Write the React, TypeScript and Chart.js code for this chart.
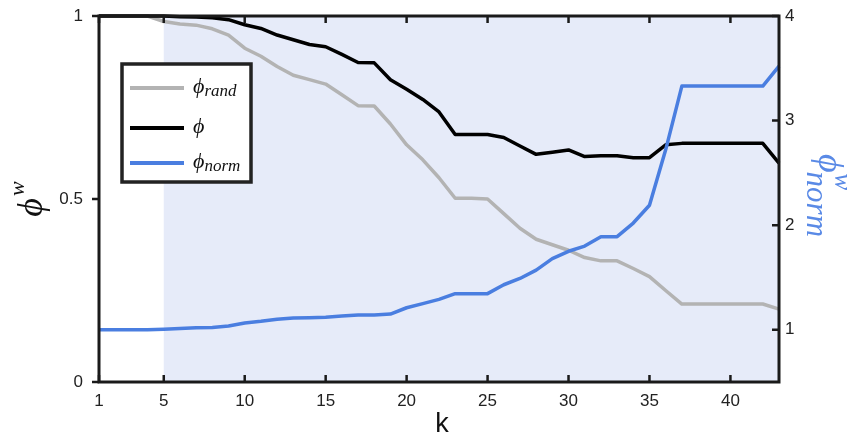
import React, { useEffect, useRef } from "react";
import { Chart, registerables } from "chart.js";

Chart.register(...registerables);

// ---------- data ----------
const kValues = [
  1, 2, 3, 4, 5, 6, 7, 8, 9, 10, 11, 12, 13, 14, 15, 16, 17, 18, 19, 20, 21,
  22, 23, 24, 25, 26, 27, 28, 29, 30, 31, 32, 33, 34, 35, 36, 37, 38, 39, 40,
  41, 42, 43,
];

const phiRand = [
  1.0, 1.0, 1.0, 1.0, 0.985, 0.978, 0.975, 0.965, 0.948, 0.912, 0.89, 0.862,
  0.838, 0.826, 0.814, 0.785, 0.755, 0.754, 0.705, 0.648, 0.607, 0.558, 0.502,
  0.502, 0.5, 0.46, 0.42, 0.39, 0.375, 0.36, 0.34, 0.331, 0.331, 0.31, 0.288,
  0.25, 0.213, 0.213, 0.213, 0.213, 0.213, 0.213, 0.199,
];

const phi = [
  1.0, 1.0, 1.0, 1.0, 1.0, 0.998, 0.997, 0.995, 0.99, 0.976, 0.966, 0.948,
  0.935, 0.922, 0.916, 0.895, 0.873, 0.872, 0.826, 0.8, 0.772, 0.738, 0.676,
  0.676, 0.676, 0.668, 0.645, 0.622, 0.628, 0.634, 0.616, 0.618, 0.618, 0.613,
  0.613, 0.648, 0.652, 0.652, 0.652, 0.652, 0.652, 0.652, 0.598,
];

const phiNorm = [
  1.0, 1.0, 1.0, 1.0, 1.005, 1.012, 1.018, 1.022, 1.035, 1.065, 1.08, 1.1,
  1.112, 1.115, 1.12, 1.13, 1.14, 1.14, 1.15, 1.21, 1.25, 1.29, 1.345, 1.345,
  1.345, 1.43, 1.49, 1.57, 1.68, 1.75, 1.8, 1.89, 1.89, 2.02, 2.19, 2.72, 3.33,
  3.33, 3.33, 3.33, 3.33, 3.33, 3.52,
];

const xTicks = [1, 5, 10, 15, 20, 25, 30, 35, 40];
const leftTicks = [0, 0.5, 1];
const rightTicks = [1, 2, 3, 4];
const shadeStartK = 5;

const GRAY = "#b3b3b3";
const BLACK = "#000000";
const BLUE = "#4a7ee0";
const TITLE_BLUE = "#5a8ae6";
const SHADE = "#e6ebf9";
const AXIS = "#1a1a1a";

const legendItems = [
  { base: "ϕ", sub: "rand", color: GRAY },
  { base: "ϕ", sub: "", color: BLACK },
  { base: "ϕ", sub: "norm", color: BLUE },
];

const SERIF = '"Liberation Serif", "DejaVu Serif", serif';
const SANS = '"Liberation Sans", Arial, sans-serif';

const decorPlugin = {
  id: "decor",
  beforeDatasetsDraw(chart: any) {
    const { ctx, chartArea } = chart;
    const { right, top, bottom } = chartArea;
    const xs = chart.scales.x.getPixelForValue(shadeStartK);
    ctx.save();
    ctx.fillStyle = SHADE;
    ctx.fillRect(xs, top, right - xs, bottom - top);
    ctx.restore();
  },
  afterDatasetsDraw(chart: any) {
    const { ctx, chartArea } = chart;
    const { left, right, top, bottom } = chartArea;
    const sx = chart.scales.x;
    const sy = chart.scales.y;
    const sy1 = chart.scales.y1;
    ctx.save();
    // ticks
    ctx.strokeStyle = AXIS;
    ctx.lineWidth = 2.5;
    ctx.beginPath();
    for (const t of xTicks) {
      const px = sx.getPixelForValue(t);
      ctx.moveTo(px, bottom);
      ctx.lineTo(px, bottom - 7);
      ctx.moveTo(px, top);
      ctx.lineTo(px, top + 7);
    }
    for (const t of leftTicks) {
      const py = sy.getPixelForValue(t);
      ctx.moveTo(left - 7, py);
      ctx.lineTo(left, py);
    }
    for (const t of rightTicks) {
      const py = sy1.getPixelForValue(t);
      ctx.moveTo(right - 7, py);
      ctx.lineTo(right, py);
    }
    ctx.stroke();
    // box
    ctx.lineWidth = 3;
    ctx.strokeRect(left, top, right - left, bottom - top);

    // legend
    const lx = left + 23;
    const ly = top + 48;
    const lw = 129;
    const lh = 118;
    ctx.fillStyle = "#ffffff";
    ctx.fillRect(lx, ly, lw, lh);
    ctx.lineWidth = 3.5;
    ctx.strokeStyle = "#222222";
    ctx.strokeRect(lx, ly, lw, lh);
    const rows = [24, 64, 99];
    legendItems.forEach((it, i) => {
      const ry = ly + rows[i];
      ctx.strokeStyle = it.color;
      ctx.lineWidth = 4;
      ctx.beginPath();
      ctx.moveTo(lx + 8, ry);
      ctx.lineTo(lx + 62, ry);
      ctx.stroke();
      ctx.fillStyle = "#111111";
      ctx.textBaseline = "alphabetic";
      ctx.textAlign = "left";
      ctx.font = `italic 22px ${SERIF}`;
      ctx.fillText(it.base, lx + 71, ry + 5);
      const bw = ctx.measureText(it.base).width;
      if (it.sub) {
        ctx.font = `italic 17px ${SERIF}`;
        ctx.fillText(it.sub, lx + 71 + bw, ry + 8);
      }
    });

    // left axis title: phi^w
    ctx.save();
    ctx.translate(33, (top + bottom) / 2);
    ctx.rotate(-Math.PI / 2);
    ctx.fillStyle = "#111111";
    ctx.textAlign = "left";
    ctx.textBaseline = "alphabetic";
    ctx.font = `italic 36px ${SERIF}`;
    const pw = ctx.measureText("ϕ").width;
    ctx.font = `italic 22px ${SERIF}`;
    const ww = ctx.measureText("w").width;
    const tot = pw + ww + 2;
    ctx.font = `italic 36px ${SERIF}`;
    ctx.fillText("ϕ", -tot / 2, 9);
    ctx.font = `italic 22px ${SERIF}`;
    ctx.fillText("w", -tot / 2 + pw + 2, -9);
    ctx.restore();

    // right axis title: phi^w_norm
    ctx.save();
    ctx.translate(825, (top + bottom) / 2 - 3);
    ctx.rotate(Math.PI / 2);
    ctx.fillStyle = TITLE_BLUE;
    ctx.textAlign = "left";
    ctx.textBaseline = "alphabetic";
    ctx.font = `italic 36px ${SERIF}`;
    const pw2 = ctx.measureText("ϕ").width;
    ctx.font = `italic 31px ${SERIF}`;
    const nw = ctx.measureText("norm").width;
    const tot2 = pw2 + nw;
    ctx.font = `italic 36px ${SERIF}`;
    ctx.fillText("ϕ", -tot2 / 2, 6);
    ctx.font = `italic 25px ${SERIF}`;
    ctx.fillText("w", -tot2 / 2 + pw2 + 1, -10);
    ctx.font = `italic 31px ${SERIF}`;
    ctx.fillText("norm", -tot2 / 2 + pw2 - 1, 18);
    ctx.restore();

    // x title
    ctx.fillStyle = "#111111";
    ctx.textAlign = "center";
    ctx.textBaseline = "alphabetic";
    ctx.font = `27px ${SANS}`;
    ctx.fillText("k", (left + right) / 2 + 3, 432);

    ctx.restore();
  },
};

export default function App() {
  const ref = useRef<HTMLCanvasElement | null>(null);

  useEffect(() => {
    if (!ref.current) return;
    const mk = (arr: number[]) => arr.map((v, i) => ({ x: kValues[i], y: v }));
    const common = {
      borderWidth: 3.5,
      pointRadius: 0,
      tension: 0,
      clip: false as any,
    };
    const chart = new Chart(ref.current, {
      type: "line",
      data: {
        datasets: [
          { label: "phi_rand", data: mk(phiRand), borderColor: GRAY, yAxisID: "y", order: 3, ...common },
          { label: "phi", data: mk(phi), borderColor: BLACK, yAxisID: "y", order: 2, ...common },
          { label: "phi_norm", data: mk(phiNorm), borderColor: BLUE, yAxisID: "y1", order: 1, ...common },
        ],
      },
      options: {
        animation: false,
        responsive: false,
        layout: { padding: { top: 16, left: 0, right: 0, bottom: 0 } },
        plugins: {
          legend: { display: false },
          tooltip: { enabled: false },
        },
        elements: { line: { borderJoinStyle: "round", borderCapStyle: "butt" } },
        scales: {
          x: {
            type: "linear",
            min: 1,
            max: 43,
            grid: { display: false, drawTicks: false },
            border: { display: false },
            afterBuildTicks: (s: any) => {
              s.ticks = xTicks.map((v) => ({ value: v }));
            },
            afterFit: (s: any) => {
              s.height = 54;
              s.paddingLeft = 0;
              s.paddingRight = 0;
            },
            ticks: {
              padding: 9,
              color: "#222222",
              font: { family: SANS, size: 17 },
              maxRotation: 0,
              autoSkip: false,
              callback: (v: any) => String(v),
            },
          },
          y: {
            type: "linear",
            position: "left",
            min: 0,
            max: 1,
            grid: { display: false, drawTicks: false },
            border: { display: false },
            afterBuildTicks: (s: any) => {
              s.ticks = leftTicks.map((v) => ({ value: v }));
            },
            afterFit: (s: any) => {
              s.width = 99;
              s.paddingTop = 0;
              s.paddingBottom = 0;
            },
            ticks: {
              padding: 16,
              color: "#222222",
              font: { family: SANS, size: 17 },
              callback: (v: any) => String(v),
            },
          },
          y1: {
            type: "linear",
            position: "right",
            min: 0.5,
            max: 4,
            grid: { display: false, drawTicks: false },
            border: { display: false },
            afterBuildTicks: (s: any) => {
              s.ticks = rightTicks.map((v) => ({ value: v }));
            },
            afterFit: (s: any) => {
              s.width = 77;
              s.paddingTop = 0;
              s.paddingBottom = 0;
            },
            ticks: {
              padding: 6,
              color: "#222222",
              font: { family: SANS, size: 17 },
              callback: (v: any) => String(v),
            },
          },
        },
      } as any,
      plugins: [decorPlugin],
    });
    return () => chart.destroy();
  }, []);

  return (
    <div
      style={{
        position: "fixed",
        left: 0,
        top: 0,
        width: 856,
        height: 436,
        background: "#ffffff",
      }}
    >
      <canvas ref={ref} width={856} height={436} />
    </div>
  );
}
